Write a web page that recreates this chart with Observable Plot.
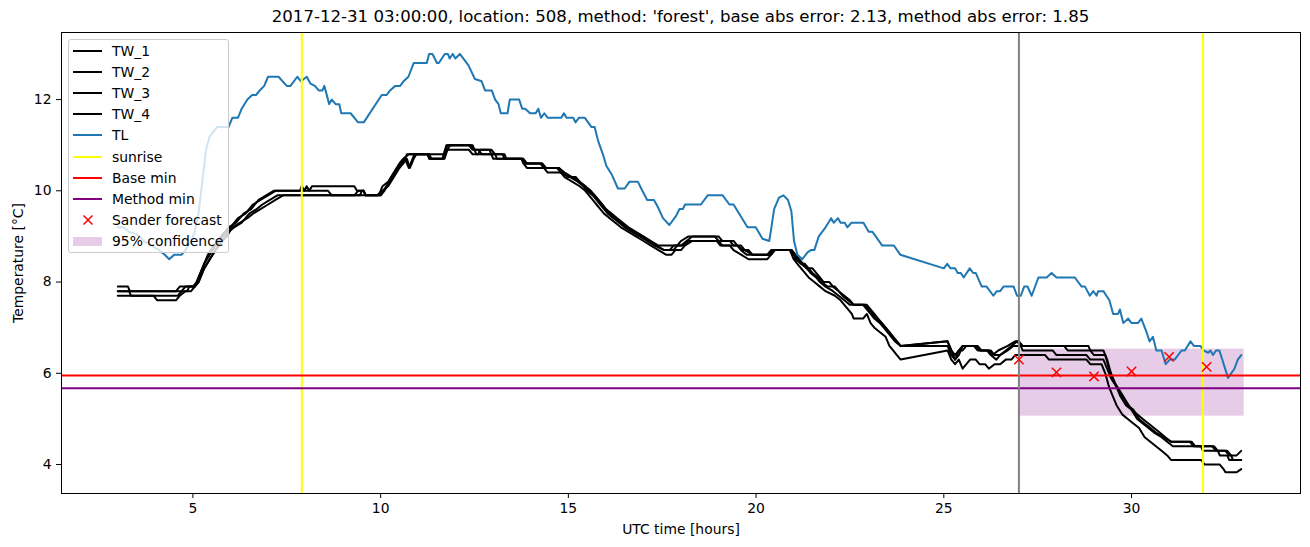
<!DOCTYPE html>
<html>
<head>
<meta charset="utf-8">
<script src="https://cdn.jsdelivr.net/npm/d3@7"></script>
<script src="https://cdn.jsdelivr.net/npm/@observablehq/plot@0.6"></script>
<style>
  body { margin: 0; background: white; }
  #wrap { position: relative; width: 1310px; height: 547px; font-family: "DejaVu Sans", sans-serif; background: white; }
  #title { position: absolute; left: 61px; width: 1239px; top: 7px; height: 21px; font-size: 16.6px; line-height: 20px; text-align: center; color: black; white-space: nowrap; }
  #chart { position: absolute; left: 0; top: 30px; }
  #legend { position: absolute; left: 68px; top: 39px; width: 161px; height: 214px; background: rgba(255,255,255,0.8); border: 1px solid rgb(204,204,204); border-radius: 3px; box-sizing: border-box; }
  .li { position: absolute; left: 0; height: 20px; width: 159px; font-size: 13.9px; color: black; }
  .li span.t { position: absolute; left: 43px; top: 1px; line-height: 18px; white-space: nowrap; }
</style>
</head>
<body>
<div id="wrap">
  <div id="title"></div>
  <div id="chart"></div>
  <div id="legend"></div>
</div>
<script>
const titleText = "2017-12-31 03:00:00, location: 508, method: 'forest', base abs error: 2.13, method abs error: 1.85";
const xLabel = "UTC time [hours]";
const yLabel = "Temperature [°C]";
const xTicks = [5, 10, 15, 20, 25, 30];
const yTicks = [4, 6, 8, 10, 12];

// [hour, temperature]
const TW_1 = [[3.0,7.9],[3.27,7.9],[3.32,7.8],[4.7,7.8],[4.8,7.9],[5.05,7.9],[5.15,8.1],[5.3,8.4],[5.45,8.6],[5.6,8.8],[5.8,9.0],[6.0,9.2],[6.2,9.4],[6.4,9.5],[6.6,9.7],[6.8,9.8],[7.0,9.9],[7.2,10.0],[7.85,10.0],[7.9,10.1],[7.97,10.0],[8.03,10.1],[8.1,10.0],[8.17,10.1],[9.3,10.1],[9.37,10.0],[9.55,10.0],[9.6,9.9],[9.95,9.9],[10.05,10.1],[10.2,10.2],[10.35,10.4],[10.5,10.6],[10.6,10.7],[10.75,10.8],[11.7,10.8],[11.78,11.0],[12.4,11.0],[12.5,10.9],[12.95,10.9],[13.05,10.8],[13.3,10.8],[13.35,10.7],[13.75,10.7],[13.85,10.6],[14.25,10.6],[14.35,10.5],[14.7,10.5],[14.8,10.4],[15.0,10.3],[15.2,10.3],[15.3,10.2],[15.45,10.1],[15.6,10.0],[15.7,9.9],[15.8,9.8],[15.9,9.7],[16.0,9.6],[16.15,9.5],[16.3,9.4],[16.45,9.3],[16.6,9.2],[16.8,9.1],[17.0,9.0],[17.2,8.9],[17.4,8.8],[17.9,8.8],[18.0,8.9],[18.2,9.0],[19.0,9.0],[19.1,8.9],[19.4,8.9],[19.5,8.8],[19.65,8.7],[19.8,8.7],[19.9,8.6],[20.4,8.6],[20.5,8.7],[20.95,8.7],[21.05,8.6],[21.15,8.5],[21.25,8.4],[21.35,8.3],[21.5,8.3],[21.6,8.2],[21.7,8.1],[21.8,8.0],[21.95,8.0],[22.05,7.9],[22.2,7.8],[22.3,7.7],[22.45,7.6],[22.6,7.5],[22.95,7.5],[23.05,7.4],[23.15,7.3],[23.25,7.2],[23.35,7.1],[23.45,7.0],[23.55,6.9],[23.65,6.8],[23.75,6.7],[23.85,6.6],[25.1,6.7],[25.2,6.5],[25.3,6.4],[25.4,6.5],[25.5,6.6],[25.9,6.6],[26.0,6.5],[26.2,6.5],[26.3,6.4],[26.45,6.5],[26.7,6.6],[26.9,6.7],[27.0,6.7],[27.1,6.6],[28.85,6.6],[28.9,6.5],[29.25,6.5],[29.3,6.4],[29.35,6.3],[29.45,6.0],[29.55,5.8],[29.7,5.6],[29.85,5.4],[30.0,5.2],[30.15,5.1],[30.3,5.0],[30.45,4.9],[30.6,4.8],[30.75,4.7],[30.9,4.6],[31.05,4.5],[31.55,4.5],[31.65,4.4],[32.15,4.4],[32.25,4.3],[32.5,4.3],[32.6,4.2],[32.8,4.2],[32.92,4.3]];
const TW_2 = [[3.0,7.8],[4.55,7.8],[4.65,7.9],[5.0,7.9],[5.1,8.0],[5.25,8.3],[5.4,8.6],[5.55,8.8],[5.75,9.0],[5.95,9.2],[6.15,9.3],[6.35,9.5],[6.55,9.6],[6.75,9.8],[6.95,9.9],[7.15,10.0],[8.6,10.0],[8.7,9.9],[9.45,9.9],[9.5,10.0],[9.55,10.0],[9.6,9.9],[10.0,9.9],[10.1,10.0],[10.25,10.2],[10.4,10.4],[10.55,10.6],[10.65,10.7],[10.75,10.5],[10.85,10.7],[10.9,10.8],[11.25,10.8],[11.3,10.7],[11.65,10.7],[11.75,11.0],[12.45,11.0],[12.55,10.8],[13.25,10.8],[13.3,10.7],[13.8,10.7],[13.9,10.6],[14.3,10.6],[14.4,10.5],[14.75,10.5],[14.85,10.4],[15.05,10.3],[15.25,10.2],[15.4,10.1],[15.5,10.0],[15.65,9.9],[15.75,9.8],[15.85,9.7],[15.95,9.6],[16.05,9.5],[16.2,9.4],[16.35,9.3],[16.5,9.2],[16.7,9.1],[16.9,9.0],[17.1,8.9],[17.3,8.8],[17.55,8.7],[17.7,8.7],[17.8,8.8],[18.0,8.8],[18.15,8.9],[18.3,9.0],[18.9,9.0],[19.0,8.9],[19.3,8.9],[19.4,8.8],[19.6,8.8],[19.7,8.7],[19.9,8.6],[20.35,8.6],[20.45,8.7],[20.9,8.7],[21.0,8.6],[21.1,8.5],[21.2,8.4],[21.3,8.4],[21.4,8.3],[21.5,8.2],[21.65,8.1],[21.75,8.0],[21.9,7.9],[22.1,7.9],[22.2,7.8],[22.35,7.7],[22.5,7.6],[22.6,7.5],[22.9,7.5],[23.0,7.4],[23.1,7.3],[23.2,7.2],[23.35,7.1],[23.45,7.0],[23.55,6.9],[23.65,6.8],[23.75,6.7],[23.85,6.6],[25.1,6.6],[25.2,6.4],[25.3,6.3],[25.4,6.4],[25.5,6.6],[25.8,6.6],[25.9,6.5],[26.15,6.5],[26.25,6.4],[26.4,6.3],[26.5,6.4],[26.7,6.5],[26.85,6.6],[27.0,6.6],[28.2,6.6],[28.3,6.5],[28.9,6.5],[29.0,6.4],[29.3,6.4],[29.4,6.1],[29.5,5.9],[29.6,5.7],[29.75,5.5],[29.9,5.3],[30.05,5.2],[30.2,5.0],[30.35,4.9],[30.5,4.8],[30.65,4.7],[30.85,4.6],[31.05,4.5],[31.6,4.5],[31.7,4.4],[32.2,4.4],[32.3,4.3],[32.55,4.3],[32.65,4.2],[32.7,4.1],[32.92,4.1]];
const TW_3 = [[3.0,7.8],[3.3,7.8],[3.35,7.7],[4.6,7.7],[4.7,7.8],[4.85,7.8],[4.9,7.9],[5.05,7.9],[5.15,8.0],[5.3,8.3],[5.45,8.5],[5.6,8.7],[5.8,8.9],[5.95,9.1],[6.1,9.2],[6.3,9.3],[6.5,9.5],[6.7,9.6],[6.85,9.7],[7.05,9.8],[7.25,9.9],[9.3,9.9],[9.4,10.0],[9.55,10.0],[9.6,9.9],[10.0,9.9],[10.15,10.1],[10.3,10.3],[10.45,10.5],[10.6,10.6],[10.7,10.8],[11.3,10.8],[11.35,10.7],[11.65,10.7],[11.72,10.9],[12.35,10.9],[12.45,10.8],[12.6,10.8],[12.65,10.9],[12.9,10.9],[13.0,10.7],[13.8,10.7],[13.85,10.6],[14.3,10.6],[14.4,10.5],[14.75,10.5],[14.9,10.4],[15.1,10.3],[15.3,10.2],[15.45,10.1],[15.55,10.0],[15.7,9.9],[15.8,9.8],[15.9,9.7],[16.0,9.6],[16.1,9.5],[16.25,9.4],[16.4,9.3],[16.55,9.2],[16.75,9.1],[16.95,9.0],[17.15,8.9],[17.35,8.8],[17.55,8.7],[17.8,8.7],[17.9,8.8],[18.05,8.8],[18.2,8.9],[19.0,8.9],[19.1,8.8],[19.5,8.8],[19.6,8.7],[19.75,8.6],[20.3,8.6],[20.4,8.7],[20.95,8.7],[21.05,8.5],[21.2,8.4],[21.35,8.3],[21.45,8.2],[21.6,8.1],[21.7,8.0],[21.85,7.9],[22.05,7.8],[22.2,7.7],[22.35,7.6],[22.5,7.5],[22.85,7.5],[22.95,7.4],[23.05,7.3],[23.15,7.2],[23.3,7.1],[23.4,7.0],[23.5,6.9],[23.6,6.8],[23.7,6.7],[23.85,6.6],[25.1,6.7],[25.2,6.5],[25.25,6.4],[25.3,6.3],[25.4,6.5],[25.5,6.5],[25.6,6.6],[25.85,6.6],[25.95,6.5],[26.25,6.5],[26.35,6.4],[26.5,6.4],[26.65,6.5],[26.8,6.6],[26.95,6.7],[27.05,6.6],[27.1,6.5],[27.9,6.5],[28.0,6.4],[28.8,6.4],[28.9,6.3],[29.25,6.3],[29.35,6.1],[29.45,5.9],[29.6,5.7],[29.7,5.5],[29.85,5.3],[30.0,5.2],[30.15,5.0],[30.3,4.9],[30.45,4.8],[30.6,4.7],[30.8,4.6],[30.95,4.5],[31.1,4.4],[31.85,4.4],[31.9,4.3],[32.3,4.3],[32.35,4.2],[32.55,4.2],[32.6,4.1],[32.92,4.1]];
const TW_4 = [[3.0,7.7],[3.95,7.7],[4.05,7.6],[4.55,7.6],[4.65,7.7],[4.8,7.8],[4.95,7.8],[5.05,7.9],[5.15,8.0],[5.3,8.3],[5.45,8.5],[5.6,8.7],[5.75,8.9],[5.9,9.0],[6.05,9.2],[6.25,9.3],[6.45,9.4],[6.6,9.5],[6.8,9.6],[7.0,9.7],[7.2,9.8],[7.4,9.9],[9.9,9.9],[10.05,10.0],[10.2,10.1],[10.35,10.3],[10.5,10.5],[10.6,10.6],[10.7,10.7],[10.78,10.5],[10.88,10.7],[10.95,10.8],[11.25,10.8],[11.3,10.7],[11.7,10.7],[11.78,10.9],[11.85,11.0],[12.35,11.0],[12.45,10.9],[12.6,10.9],[12.7,10.8],[13.05,10.8],[13.1,10.7],[13.75,10.7],[13.8,10.6],[13.9,10.5],[14.35,10.5],[14.45,10.4],[14.8,10.4],[14.9,10.3],[15.1,10.2],[15.3,10.1],[15.45,10.0],[15.55,9.9],[15.65,9.8],[15.75,9.7],[15.85,9.6],[15.95,9.5],[16.1,9.4],[16.25,9.3],[16.4,9.2],[16.6,9.1],[16.8,9.0],[17.0,8.9],[17.2,8.8],[17.4,8.7],[17.6,8.6],[17.75,8.6],[17.85,8.7],[18.0,8.7],[18.1,8.8],[18.3,8.9],[18.95,8.9],[19.05,8.8],[19.3,8.8],[19.4,8.7],[19.6,8.6],[19.8,8.5],[20.3,8.5],[20.4,8.6],[20.5,8.7],[20.9,8.7],[21.0,8.5],[21.1,8.4],[21.2,8.3],[21.3,8.2],[21.4,8.1],[21.55,8.0],[21.7,7.9],[21.85,7.8],[22.1,7.7],[22.25,7.6],[22.35,7.5],[22.45,7.4],[22.55,7.3],[22.6,7.2],[22.85,7.2],[22.95,7.3],[23.05,7.1],[23.15,7.0],[23.3,6.9],[23.45,6.8],[23.55,6.6],[23.65,6.5],[23.75,6.4],[23.85,6.3],[25.1,6.5],[25.2,6.3],[25.3,6.2],[25.4,6.3],[25.5,6.1],[25.6,6.2],[25.7,6.3],[25.85,6.3],[25.95,6.2],[26.1,6.2],[26.2,6.1],[26.35,6.2],[26.5,6.2],[26.65,6.3],[26.8,6.3],[26.9,6.4],[27.0,6.4],[27.7,6.4],[27.8,6.3],[28.8,6.3],[28.9,6.2],[29.2,6.2],[29.3,6.0],[29.4,5.7],[29.5,5.5],[29.6,5.3],[29.75,5.1],[29.9,5.0],[30.05,4.9],[30.2,4.8],[30.35,4.6],[30.5,4.5],[30.65,4.4],[30.8,4.3],[30.95,4.2],[31.05,4.1],[31.85,4.1],[31.95,4.0],[32.35,4.0],[32.45,3.9],[32.5,3.83],[32.8,3.83],[32.92,3.9]];
const TL = [[3.0,9.2],[3.15,9.2],[3.3,9.1],[3.5,9.05],[3.7,8.9],[3.9,8.8],[4.1,8.7],[4.25,8.6],[4.37,8.5],[4.5,8.6],[4.7,8.6],[4.8,8.7],[4.95,8.9],[5.05,9.1],[5.15,9.5],[5.25,10.2],[5.35,10.9],[5.45,11.2],[5.55,11.3],[5.65,11.4],[5.95,11.4],[6.05,11.6],[6.2,11.6],[6.3,11.8],[6.45,12.0],[6.58,12.1],[6.68,12.1],[6.78,12.2],[6.9,12.3],[7.0,12.5],[7.28,12.5],[7.5,12.3],[7.6,12.3],[7.78,12.5],[7.88,12.4],[8.03,12.5],[8.13,12.35],[8.25,12.3],[8.35,12.2],[8.45,12.2],[8.5,12.3],[8.63,11.9],[8.7,12.0],[8.8,11.9],[8.9,11.9],[8.95,11.7],[9.2,11.7],[9.4,11.5],[9.55,11.5],[10.03,12.1],[10.16,12.1],[10.25,12.2],[10.39,12.3],[10.52,12.3],[10.61,12.4],[10.74,12.5],[10.88,12.8],[11.23,12.8],[11.29,13.0],[11.38,13.0],[11.5,12.8],[11.55,12.8],[11.71,13.0],[11.79,13.0],[11.84,12.9],[11.92,13.0],[11.99,12.9],[12.11,13.0],[12.34,12.75],[12.51,12.45],[12.69,12.4],[12.78,12.2],[12.96,12.2],[13.05,12.0],[13.14,11.9],[13.2,11.7],[13.38,11.7],[13.44,12.0],[13.69,12.0],[13.77,11.8],[13.85,11.8],[13.98,11.7],[14.13,11.7],[14.2,11.8],[14.27,11.6],[14.36,11.7],[14.45,11.6],[14.81,11.6],[14.88,11.7],[14.95,11.6],[15.13,11.6],[15.19,11.5],[15.28,11.6],[15.44,11.6],[15.61,11.4],[15.7,11.4],[15.79,11.1],[15.92,10.8],[16.01,10.55],[16.16,10.35],[16.32,10.05],[16.5,10.05],[16.63,10.2],[16.85,10.2],[16.94,10.05],[17.1,9.8],[17.28,9.8],[17.38,9.65],[17.52,9.4],[17.69,9.25],[17.87,9.45],[17.96,9.6],[18.05,9.6],[18.11,9.7],[18.53,9.7],[18.71,9.9],[19.11,9.9],[19.29,9.7],[19.4,9.7],[19.77,9.2],[19.99,9.2],[20.17,8.95],[20.35,8.9],[20.39,9.1],[20.48,9.6],[20.61,9.85],[20.73,9.9],[20.85,9.8],[20.94,9.55],[21.01,8.9],[21.1,8.6],[21.23,8.5],[21.37,8.65],[21.46,8.7],[21.55,8.7],[21.67,9.0],[21.85,9.2],[22.0,9.4],[22.07,9.3],[22.18,9.4],[22.25,9.3],[22.36,9.3],[22.43,9.2],[22.54,9.3],[22.86,9.3],[23.0,9.1],[23.1,9.1],[23.36,8.8],[23.67,8.8],[23.84,8.6],[25.0,8.3],[25.09,8.4],[25.18,8.3],[25.3,8.3],[25.37,8.2],[25.45,8.2],[25.53,8.1],[25.69,8.3],[25.78,8.2],[25.85,8.2],[26.01,7.9],[26.14,7.9],[26.32,7.7],[26.41,7.8],[26.5,7.8],[26.59,7.9],[26.86,7.9],[26.95,7.7],[27.05,7.7],[27.14,7.9],[27.23,7.9],[27.34,7.7],[27.52,8.1],[27.74,8.1],[27.87,8.2],[28.0,8.1],[28.49,8.1],[28.67,7.9],[28.76,7.9],[28.89,7.7],[28.98,7.8],[29.07,7.7],[29.11,7.8],[29.25,7.8],[29.41,7.6],[29.51,7.3],[29.64,7.3],[29.69,7.4],[29.78,7.1],[29.91,7.2],[30.0,7.1],[30.17,7.1],[30.26,7.2],[30.4,6.9],[30.48,6.7],[30.57,6.8],[30.66,6.5],[30.8,6.5],[30.91,6.2],[31.02,6.3],[31.15,6.3],[31.33,6.5],[31.42,6.5],[31.57,6.7],[31.66,6.6],[31.83,6.6],[31.92,6.5],[32.04,6.45],[32.1,6.5],[32.17,6.4],[32.25,6.5],[32.34,6.5],[32.57,5.9],[32.74,6.1],[32.83,6.3],[32.92,6.4]];

const sunriseHours = [7.9, 31.9];
const forecastStart = [27];
const baseMin = [5.95];
const methodMin = [5.67];
const forecastHours = [27, 28, 29, 30, 31, 32];
const forecastValues = [6.30, 6.02, 5.93, 6.04, 6.36, 6.14];
const confHours = [27, 33];
const confLow = [5.06];
const confHigh = [6.53];

const twSeries = {TW_1, TW_2, TW_3, TW_4};
const toRows = (arr) => arr.map(([h, t]) => ({h, t}));
const forecastRows = forecastHours.map((h, i) => ({h, t: forecastValues[i]}));
const confRows = [{x1: confHours[0], x2: confHours[1], y1: confLow[0], y2: confHigh[0]}];

const colors = {TW: "black", TL: "#1f77b4", sunrise: "yellow", base: "red", method: "purple", forecast: "red", conf: "purple", now: "gray"};

const marks = [
  Plot.rect(confRows, {x1: "x1", x2: "x2", y1: "y1", y2: "y2", fill: colors.conf, fillOpacity: 0.2}),
  ...Object.values(twSeries).map(s => Plot.line(toRows(s), {x: "h", y: "t", stroke: colors.TW, strokeWidth: 2})),
  Plot.line(toRows(TL), {x: "h", y: "t", stroke: colors.TL, strokeWidth: 2}),
  Plot.ruleX(sunriseHours, {stroke: colors.sunrise, strokeWidth: 2}),
  Plot.ruleY(baseMin, {stroke: colors.base, strokeWidth: 2}),
  Plot.ruleY(methodMin, {stroke: colors.method, strokeWidth: 2}),
  Plot.ruleX(forecastStart, {stroke: colors.now, strokeWidth: 2}),
  Plot.dot(forecastRows, {x: "h", y: "t", symbol: "times", r: 4.3, stroke: colors.forecast, strokeWidth: 1.5, fill: "none"}),
  Plot.frame({stroke: "black", strokeWidth: 1}),
  Plot.axisX({ticks: xTicks, tickSize: 5, tickPadding: 5, tickFormat: d => String(d), label: null}),
  Plot.axisY({ticks: yTicks, tickSize: 5, tickPadding: 5, tickFormat: d => String(d), label: null}),
  Plot.text([xLabel], {frameAnchor: "bottom", dy: 36, lineAnchor: "middle", textAnchor: "middle", fontSize: 13.9, fill: "black"}),
  Plot.text([yLabel], {frameAnchor: "left", dx: -43, rotate: -90, lineAnchor: "middle", textAnchor: "middle", fontSize: 13.9, fill: "black"})
];

const chart = Plot.plot({
  width: 1310,
  height: 517,
  marginLeft: 61,
  marginRight: 10,
  marginTop: 2,
  marginBottom: 54,
  x: {domain: [1.5, 34.5]},
  y: {domain: [3.365, 13.47]},
  style: {fontFamily: "DejaVu Sans", fontSize: "13.9px", color: "black", background: "white", overflow: "visible"},
  marks
});
document.getElementById("chart").appendChild(chart);
document.getElementById("title").textContent = titleText;

// Legend
const legendItems = [
  {label: "TW_1", type: "line", color: colors.TW},
  {label: "TW_2", type: "line", color: colors.TW},
  {label: "TW_3", type: "line", color: colors.TW},
  {label: "TW_4", type: "line", color: colors.TW},
  {label: "TL", type: "line", color: colors.TL},
  {label: "sunrise", type: "line", color: colors.sunrise},
  {label: "Base min", type: "line", color: colors.base},
  {label: "Method min", type: "line", color: colors.method},
  {label: "Sander forecast", type: "x", color: colors.forecast},
  {label: "95% confidence", type: "patch", color: "rgba(128,0,128,0.2)"}
];
const legend = document.getElementById("legend");
legendItems.forEach((it, i) => {
  const row = document.createElement("div");
  row.className = "li";
  row.style.top = (1 + i * 21.1) + "px";
  let sym;
  if (it.type === "line") {
    sym = `<svg width="40" height="20" style="position:absolute;left:0;top:0"><line x1="4" x2="33" y1="10" y2="10" stroke="${it.color}" stroke-width="2"/></svg>`;
  } else if (it.type === "x") {
    sym = `<svg width="40" height="20" style="position:absolute;left:0;top:0"><path d="M14.5,5.5L23.5,14.5M23.5,5.5L14.5,14.5" stroke="${it.color}" stroke-width="1.5"/></svg>`;
  } else {
    sym = `<svg width="40" height="20" style="position:absolute;left:0;top:0"><rect x="4" y="6" width="29" height="9" fill="${it.color}"/></svg>`;
  }
  row.innerHTML = sym + `<span class="t">${it.label}</span>`;
  legend.appendChild(row);
});
</script>
</body>
</html>
